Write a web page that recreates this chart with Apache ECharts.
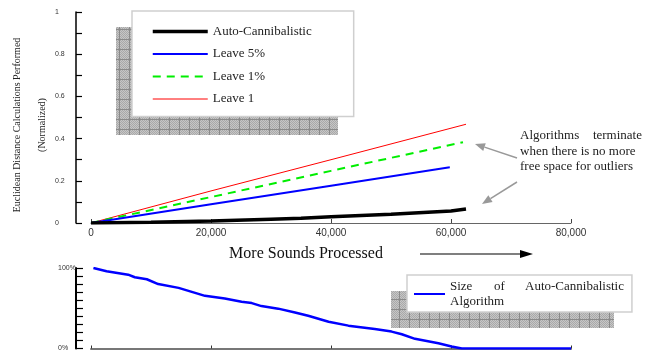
<!DOCTYPE html>
<html>
<head>
<meta charset="utf-8">
<script src="https://cdn.jsdelivr.net/npm/echarts@6/dist/echarts.min.js"></script>
<style>html,body{margin:0;padding:0;background:#fff;}#c{width:653px;height:352px;}</style>
</head>
<body>
<div id="c"></div>
<script>
// ---- data ----
const seriesNames = ['Auto-Cannibalistic', 'Leave 5%', 'Leave 1%', 'Leave 1'];
const autoCannibalistic = [[0,0],[10000,0.004],[20000,0.010],[30000,0.018],[35000,0.022],[40000,0.030],[50000,0.042],[60000,0.057],[62500,0.066]];
const leave5 = [[0,0],[20000,0.089],[40000,0.177],[59800,0.264]];
const leave1pct = [[0,0],[20000,0.123],[40000,0.247],[62000,0.383]];
const leave1 = [[0,0],[20000,0.152],[40000,0.300],[62500,0.468]];
const sizeName = 'Size of Auto-Cannibalistic Algorithm';
const sizeAuto = [[400,100],[2600,96],[6200,91.7],[7300,88.5],[9300,86],[11200,80],[14600,75.3],[16800,70.4],[19000,65.4],[22300,62],[25100,58],[26800,56.4],[28400,52.7],[31200,49.5],[34000,44.8],[36200,40.7],[39600,33.3],[42900,28.4],[47300,24.3],[50100,21],[51800,17.7],[54000,12],[57900,6.5],[60100,2.5],[61800,0],[80000,0]];
const xTicks = [0, 20000, 40000, 60000, 80000];
const yTitle1 = 'Euclidean Distance Calculations Performed';
const yTitle2 = '(Normalized)';
const xTitle = 'More Sounds Processed';
const noteLines = ['when there is no more', 'free space for outliers'];

function makePattern() {
  const c = document.createElement('canvas');
  c.width = 10; c.height = 10;
  const g = c.getContext('2d');
  g.fillStyle = '#c6c6c6'; g.fillRect(0, 0, 10, 10);
  g.fillStyle = '#a9a9a9';
  for (let i = 0; i < 10; i++) for (let j = 0; j < 10; j++) if ((i + j) % 2 === 0) g.fillRect(i, j, 1, 1);
  g.fillStyle = '#8a8a8a'; g.fillRect(9, 0, 1, 10); g.fillRect(0, 9, 10, 1);
  return c;
}
const pat = { image: makePattern(), repeat: 'repeat' };

function arrow(x1, y1, x2, y2, color, len, half, w) {
  const a = Math.atan2(y2 - y1, x2 - x1);
  const bx = x2 - len * Math.cos(a), by = y2 - len * Math.sin(a);
  const px = -Math.sin(a) * half, py = Math.cos(a) * half;
  return [
    { type: 'line', shape: { x1: x1, y1: y1, x2: bx, y2: by }, style: { stroke: color, lineWidth: w }, z: 5 },
    { type: 'polygon', shape: { points: [[x2, y2], [bx + px, by + py], [bx - px, by - py]] }, style: { fill: color }, z: 5 }
  ];
}

const serif = 'Liberation Serif';
const sans = 'Liberation Sans';
const chart = echarts.init(document.getElementById('c'), null, { renderer: 'canvas' });

const lineStyles = [
  { color: '#000000', width: 3.5 },
  { color: '#0000ff', width: 2 },
  { color: '#00ee00', width: 2, type: [8, 6] },
  { color: '#ff0000', width: 1 }
];
const legendWidths = [3.5, 2, 2.2, 1];
const topData = [autoCannibalistic, leave5, leave1pct, leave1];

const series = seriesNames.map((n, i) => ({
  name: n, type: 'line', xAxisIndex: 0, yAxisIndex: 0, data: topData[i],
  symbol: 'none', showSymbol: false, lineStyle: lineStyles[i], itemStyle: { color: lineStyles[i].color },
  z: 4 - i + 2
}));
series.push({
  name: sizeName, type: 'line', xAxisIndex: 1, yAxisIndex: 1, data: sizeAuto,
  symbol: 'none', showSymbol: false, lineStyle: { color: '#0000ff', width: 2.5 }, itemStyle: { color: '#0000ff' }
});

const graphic = [
  { type: 'rect', shape: { x: 116, y: 27, width: 222, height: 108 }, style: { fill: pat }, z: 1 },
  { type: 'rect', shape: { x: 391, y: 291, width: 223, height: 37 }, style: { fill: pat }, z: 1 },
  { type: 'text', x: 17, y: 125, rotation: Math.PI / 2, style: { text: yTitle1, font: '10px "' + serif + '"', fill: '#222', align: 'center', verticalAlign: 'middle' } },
  { type: 'text', x: 42, y: 125, rotation: Math.PI / 2, style: { text: yTitle2, font: '10px "' + serif + '"', fill: '#222', align: 'center', verticalAlign: 'middle' } },
  { type: 'text', x: 306, y: 254, style: { text: xTitle, font: '16px "' + serif + '"', fill: '#111', align: 'center', verticalAlign: 'middle' } },
  { type: 'text', x: 520, y: 136, style: { text: 'Algorithms', font: '13px "' + serif + '"', fill: '#222', align: 'left', verticalAlign: 'middle' } },
  { type: 'text', x: 642, y: 136, style: { text: 'terminate', font: '13px "' + serif + '"', fill: '#222', align: 'right', verticalAlign: 'middle' } },
  { type: 'text', x: 520, y: 152, style: { text: noteLines[0], font: '13px "' + serif + '"', fill: '#222', align: 'left', verticalAlign: 'middle', letterSpacing: 0.35 } },
  { type: 'text', x: 520, y: 167, style: { text: noteLines[1], font: '13px "' + serif + '"', fill: '#222', align: 'left', verticalAlign: 'middle' } }
].concat(
  arrow(420, 254, 533, 254, '#000', 13, 4, 1.2),
  arrow(517, 158, 475, 144, '#999', 10, 4, 1.5),
  arrow(517, 182, 482, 204, '#999', 10, 4, 1.5)
);

chart.setOption({
  animation: false,
  backgroundColor: '#fff',
  grid: [
    { left: 91, top: 12, width: 480, height: 211 },
    { left: 91, top: 268, width: 480, height: 81 }
  ],
  xAxis: [
    { type: 'value', gridIndex: 0, min: 0, max: 80000, interval: 20000,
      axisLine: { show: true, onZero: false, lineStyle: { color: '#666', width: 1 } },
      axisTick: { show: true, inside: true, length: 4, lineStyle: { color: '#444' } },
      axisLabel: { fontFamily: sans, fontSize: 10, color: '#333', margin: 5,
        formatter: v => xTicks.includes(v) ? v.toLocaleString('en-US') : '' },
      splitLine: { show: false } },
    { type: 'value', gridIndex: 1, min: 0, max: 80000, interval: 20000,
      axisLine: { show: true, onZero: false, lineStyle: { color: '#777', width: 2 } },
      axisTick: { show: true, inside: true, length: 3, lineStyle: { color: '#333' } },
      axisLabel: { show: false }, splitLine: { show: false } }
  ],
  yAxis: [
    { type: 'value', gridIndex: 0, min: 0, max: 1, interval: 0.1, offset: 15,
      axisLine: { show: true, onZero: false, lineStyle: { color: '#000', width: 1.5 } },
      axisTick: { show: true, inside: true, length: 6, lineStyle: { color: '#000', width: 1.2 } },
      axisLabel: { fontFamily: sans, fontSize: 7, color: '#333', align: 'left', margin: 21,
        formatter: v => (Math.round(v * 10) % 2 === 0) ? String(Math.round(v * 10) / 10) : '' },
      splitLine: { show: false } },
    { type: 'value', gridIndex: 1, min: 0, max: 100, interval: 10, offset: 15,
      axisLine: { show: true, onZero: false, lineStyle: { color: '#000', width: 2 } },
      axisTick: { show: true, inside: true, length: 7, lineStyle: { color: '#000', width: 1.2 } },
      axisLabel: { fontFamily: sans, fontSize: 7, color: '#333', align: 'left', margin: 18,
        formatter: v => v === 100 ? '100%' : (v === 0 ? '0%' : '') },
      splitLine: { show: false } }
  ],
  legend: [
    { data: seriesNames.map((n, i) => ({ name: n, lineStyle: { width: legendWidths[i] } })),
      orient: 'vertical', left: 132, top: 11,
      padding: [14, 42, 11, 19], itemWidth: 55, itemHeight: 14, itemGap: 9.5,
      itemStyle: { opacity: 0, borderWidth: 0 },
      backgroundColor: '#fff', borderColor: '#cfcfcf', borderWidth: 1.5, z: 10,
      textStyle: { fontFamily: serif, fontSize: 13, color: '#222' } },
    { data: [sizeName], left: 407, top: 275,
      padding: [4, 8, 3, 6], itemWidth: 31, itemHeight: 14,
      itemStyle: { opacity: 0, borderWidth: 0 },
      backgroundColor: '#fff', borderColor: '#cfcfcf', borderWidth: 1.5, z: 10,
      formatter: () => '{a|Size}{b|of}{c|Auto-Cannibalistic}\n{c|Algorithm}',
      textStyle: { fontFamily: serif, fontSize: 13, color: '#222', lineHeight: 15,
        rich: { a: { width: 44, fontFamily: serif, fontSize: 13, lineHeight: 15 },
                b: { width: 31, fontFamily: serif, fontSize: 13, lineHeight: 15 },
                c: { fontFamily: serif, fontSize: 13, lineHeight: 15 } } } }
  ],
  graphic: graphic,
  series: series
});
</script>
</body>
</html>
